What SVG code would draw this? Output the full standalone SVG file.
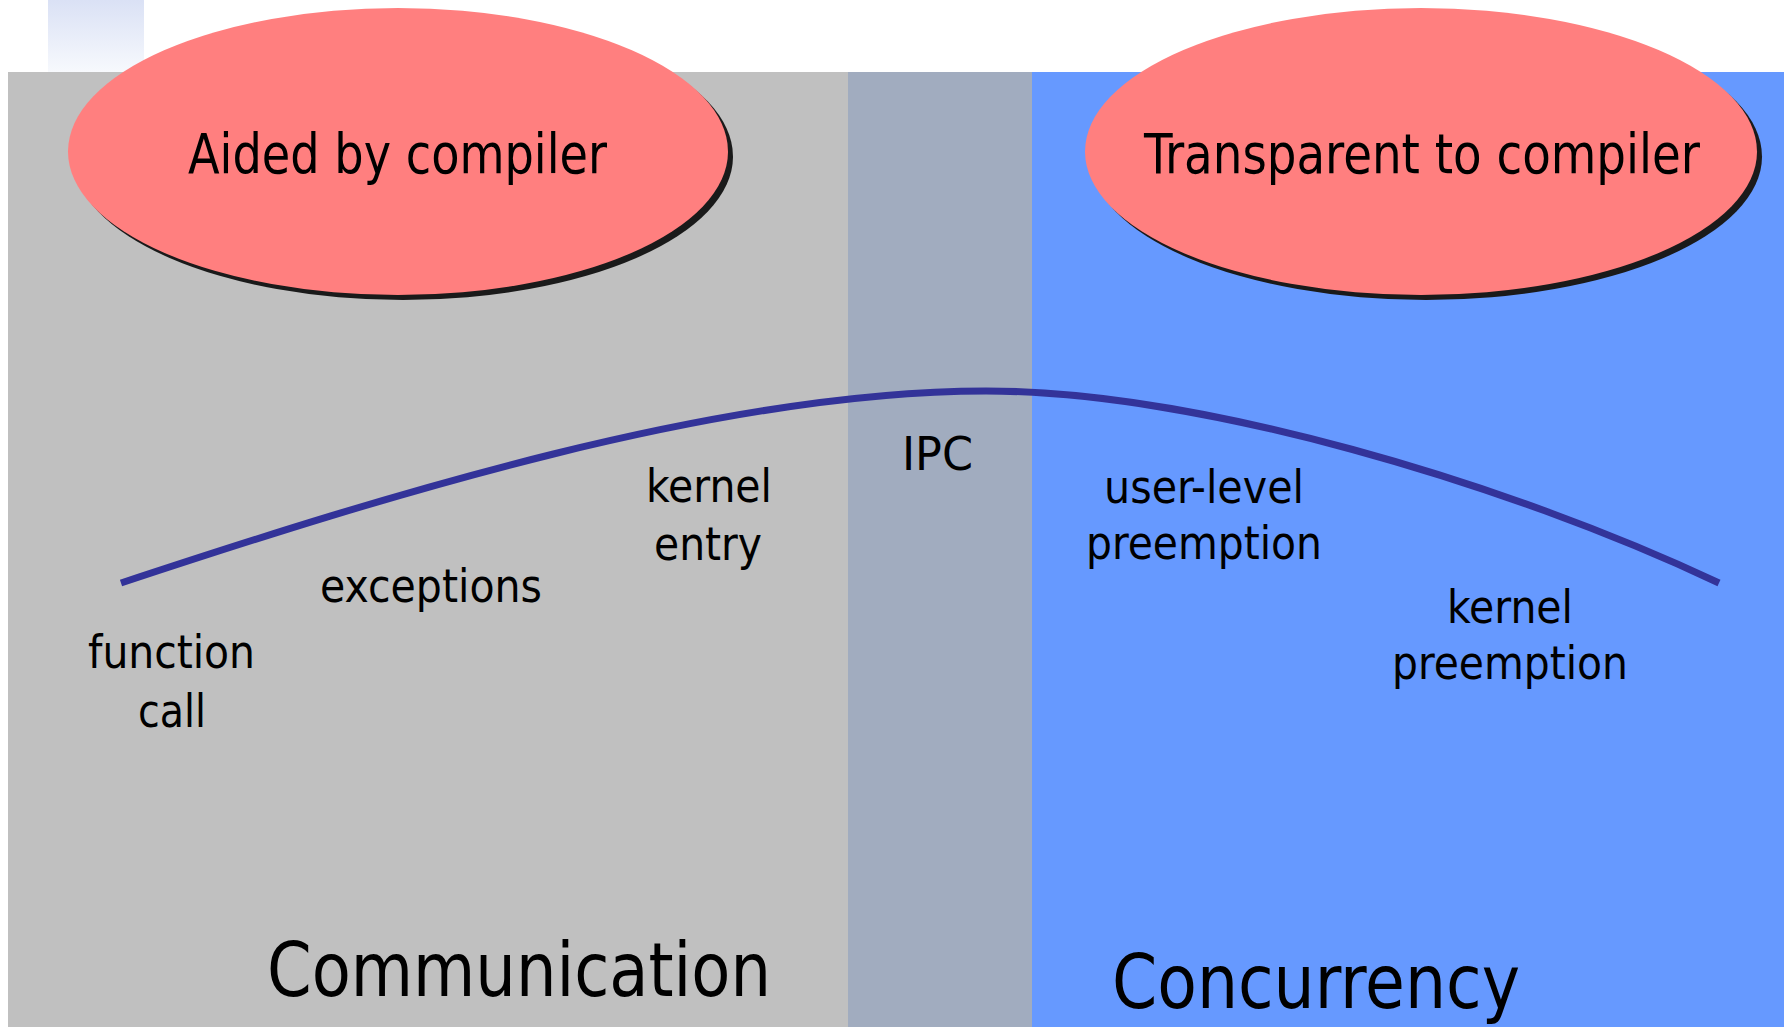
<svg xmlns="http://www.w3.org/2000/svg" width="1787" height="1027" viewBox="0 0 1787 1027">
  <defs>
    <linearGradient id="tabFade" x1="0" y1="0" x2="0" y2="1">
      <stop offset="0" stop-color="#DAE1F5"/>
      <stop offset="1" stop-color="#F7F9FD"/>
    </linearGradient>
    <style>
      .lbl { font-family: "DejaVu Sans", "Liberation Sans", sans-serif; font-stretch: condensed; fill: #000; }
      .small { font-size: 46px; }
      .title { font-size: 55px; }
      .big { font-size: 75px; }
      .bubble { fill: #FF7F7F; }
      .shadow { fill: #1A1A1A; }
      .arc { fill: none; stroke: #333399; stroke-width: 7; }
    </style>
  </defs>

  <rect width="1787" height="1027" fill="#FFFFFF"/>

  <!-- header tab -->
  <rect x="48" y="0" width="96" height="72" fill="url(#tabFade)"/>

  <!-- background bands -->
  <g id="bands">
    <rect id="band-communication" x="8" y="72" width="840" height="955" fill="#C0C0C0"/>
    <rect id="band-ipc" x="848" y="72" width="184" height="955" fill="#A1ACBF"/>
    <rect id="band-concurrency" x="1032" y="72" width="752" height="955" fill="#6699FF"/>
  </g>

  <!-- compiler bubbles -->
  <g id="aided">
    <ellipse class="shadow" cx="403" cy="156.5" rx="330" ry="143.5"/>
    <ellipse class="bubble" cx="398" cy="151.5" rx="330" ry="143.5"/>
    <text class="lbl title" x="188" y="173" textLength="419" lengthAdjust="spacingAndGlyphs">Aided by compiler</text>
  </g>
  <g id="transparent">
    <ellipse class="shadow" cx="1426" cy="156.5" rx="336" ry="143.5"/>
    <ellipse class="bubble" cx="1421" cy="151.5" rx="336" ry="143.5"/>
    <text class="lbl title" x="1144" y="173" textLength="556" lengthAdjust="spacingAndGlyphs">Transparent to compiler</text>
  </g>

  <!-- cost curve -->
  <g id="connectors">
    <path class="arc" d="M121,583 C387,495 720,391 986,391 C1198,391 1507,483 1719,583"/>
  </g>

  <!-- points along the curve -->
  <g id="function-call">
    <text class="lbl small" x="88" y="668" textLength="167" lengthAdjust="spacingAndGlyphs">function</text>
    <text class="lbl small" x="138" y="727" textLength="68" lengthAdjust="spacingAndGlyphs">call</text>
  </g>
  <g id="exceptions">
    <text class="lbl small" x="320" y="602" textLength="222" lengthAdjust="spacingAndGlyphs">exceptions</text>
  </g>
  <g id="kernel-entry">
    <text class="lbl small" x="646" y="502" textLength="126" lengthAdjust="spacingAndGlyphs">kernel</text>
    <text class="lbl small" x="654" y="560" textLength="108" lengthAdjust="spacingAndGlyphs">entry</text>
  </g>
  <g id="ipc">
    <text class="lbl small" x="902" y="470" textLength="71" lengthAdjust="spacingAndGlyphs">IPC</text>
  </g>
  <g id="user-level-preemption">
    <text class="lbl small" x="1104" y="503" textLength="200" lengthAdjust="spacingAndGlyphs">user-level</text>
    <text class="lbl small" x="1086" y="559" textLength="236" lengthAdjust="spacingAndGlyphs">preemption</text>
  </g>
  <g id="kernel-preemption">
    <text class="lbl small" x="1447" y="623" textLength="126" lengthAdjust="spacingAndGlyphs">kernel</text>
    <text class="lbl small" x="1392" y="679" textLength="236" lengthAdjust="spacingAndGlyphs">preemption</text>
  </g>

  <!-- band captions -->
  <g id="communication">
    <text class="lbl big" x="267" y="996" textLength="504" lengthAdjust="spacingAndGlyphs">Communication</text>
  </g>
  <g id="concurrency">
    <text class="lbl big" x="1112" y="1008" textLength="408" lengthAdjust="spacingAndGlyphs">Concurrency</text>
  </g>
</svg>
